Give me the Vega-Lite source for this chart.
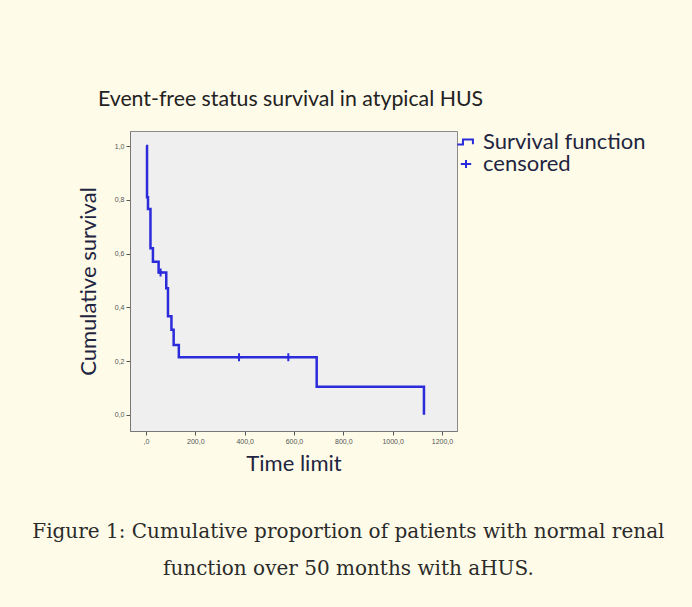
{
  "$schema": "https://vega.github.io/schema/vega-lite/v6.json",
  "background": "#fefbe8",
  "padding": {"left": 32, "top": 88, "right": 28, "bottom": 31},
  "config": {"font": "Lato"},
  "title": {
    "text": ["Figure 1: Cumulative proportion of patients with normal renal", "function over 50 months with aHUS."],
    "orient": "bottom",
    "anchor": "middle",
    "font": "DejaVu Serif",
    "fontSize": 20,
    "fontWeight": "normal",
    "color": "#2b2b2b",
    "lineHeight": 37,
    "offset": 47,
    "dx": -13
  },
  "vconcat": [
    {
      "width": 327,
      "height": 300,
      "view": {"fill": "#efefef", "stroke": "#8a8a8a", "strokeWidth": 1},
      "title": {
        "text": "Event-free status survival in atypical HUS",
        "font": "Lato",
        "fontSize": 21.3,
        "fontWeight": "normal",
        "color": "#222222",
        "anchor": "middle",
        "frame": "group",
        "offset": 21,
        "dx": -3
      },
      "layer": [
        {
          "data": {
            "values": [
              {"time": 0, "survival": 1.0, "series": "Survival function"},
              {"time": 4, "survival": 0.81, "series": "Survival function"},
              {"time": 8, "survival": 0.766, "series": "Survival function"},
              {"time": 18, "survival": 0.62, "series": "Survival function"},
              {"time": 28, "survival": 0.57, "series": "Survival function"},
              {"time": 51, "survival": 0.53, "series": "Survival function"},
              {"time": 82, "survival": 0.471, "series": "Survival function"},
              {"time": 89, "survival": 0.367, "series": "Survival function"},
              {"time": 103, "survival": 0.317, "series": "Survival function"},
              {"time": 112, "survival": 0.26, "series": "Survival function"},
              {"time": 133, "survival": 0.2145, "series": "Survival function"},
              {"time": 692, "survival": 0.105, "series": "Survival function"},
              {"time": 1127, "survival": 0.0, "series": "Survival function"}
            ]
          },
          "mark": {"type": "line", "interpolate": "step-after", "strokeWidth": 2.5},
          "encoding": {
            "x": {
              "field": "time", "type": "quantitative",
              "scale": {"domain": [-65, 1261], "nice": false, "zero": false},
              "axis": {
                "title": "Time limit",
                "values": [0, 200, 400, 600, 800, 1000, 1200],
                "labelExpr": "datum.value == 0 ? ',0' : replace(format(datum.value, '.1f'), '.', ',')",
                "grid": false,
                "labelFont": "Liberation Sans", "labelFontSize": 7, "labelColor": "#555555", "labelPadding": 2,
                "tickSize": 4, "tickColor": "#555555", "domainColor": "#777777",
                "titleFont": "Lato", "titleFontSize": 22, "titleFontWeight": "normal", "titleColor": "#1f2540", "titlePadding": 9
              }
            },
            "y": {
              "field": "survival", "type": "quantitative",
              "scale": {"domain": [-0.06, 1.056], "nice": false, "zero": false},
              "axis": {
                "title": "Cumulative survival",
                "values": [0, 0.2, 0.4, 0.6, 0.8, 1.0],
                "labelExpr": "replace(format(datum.value, '.1f'), '.', ',')",
                "grid": false,
                "labelFont": "Liberation Sans", "labelFontSize": 7, "labelColor": "#555555", "labelPadding": 2,
                "tickSize": 4, "tickColor": "#555555", "domainColor": "#777777",
                "titleFont": "Lato", "titleFontSize": 22, "titleFontWeight": "normal", "titleColor": "#1f2540", "titlePadding": 14
              }
            },
            "color": {
              "field": "series", "type": "nominal",
              "scale": {"domain": ["Survival function", "censored"], "range": ["#2b2bdc", "#2b2bdc"]},
              "legend": {
                "title": null,
                "orient": "right",
                "offset": -29,
                "padding": 0,
                "rowPadding": 0,
                "labelFont": "Lato", "labelFontSize": 22, "labelColor": "#1f2540", "labelLimit": 300,
                "labelOffset": 6,
                "encode": {
                  "symbols": {
                    "update": {
                      "shape": {"signal": "datum.label === 'censored' ? 'M-0.6,0L0.6,0M0,-0.45L0,0.45' : 'M-1,0.3L-0.35,0.3L-0.35,-0.3L0.8,-0.3L0.8,0.25'"},
                      "fill": {"value": "transparent"},
                      "stroke": {"value": "#2b2bdc"},
                      "strokeWidth": {"value": 2},
                      "size": {"value": 300}
                    }
                  }
                }
              }
            }
          }
        },
        {
          "data": {
            "values": [
              {"time": 59, "survival": 0.53, "series": "censored"},
              {"time": 377, "survival": 0.2145, "series": "censored"},
              {"time": 577, "survival": 0.2145, "series": "censored"}
            ]
          },
          "mark": {"type": "point", "shape": "M0,-1L0,1M-0.6,0L0.6,0", "filled": false, "strokeWidth": 2, "size": 64, "opacity": 1},
          "encoding": {
            "x": {"field": "time", "type": "quantitative"},
            "y": {"field": "survival", "type": "quantitative"},
            "color": {"field": "series", "type": "nominal"}
          }
        }
      ]
    }
  ]
}
